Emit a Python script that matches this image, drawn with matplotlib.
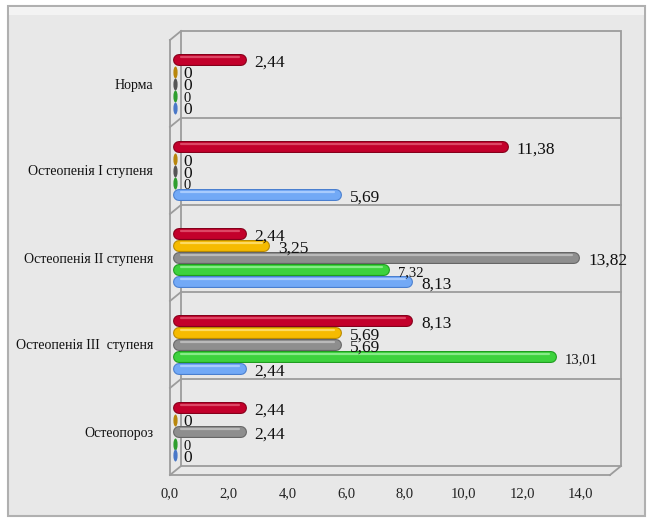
import matplotlib
matplotlib.use('Agg')
import matplotlib.pyplot as plt
import numpy as np
from matplotlib.transforms import offset_copy, Affine2D
from matplotlib.patches import Rectangle
from matplotlib.path import Path
from matplotlib.lines import Line2D

plt.rcParams['font.family'] = ['Liberation Serif', 'DejaVu Serif']

# data
categories = ['Норма', 'Остеопенія I ступеня', 'Остеопенія II ступеня',
              'Остеопенія III  ступеня', 'Остеопороз']
red = [2.44, 11.38, 2.44, 8.13, 2.44]
yellow = [0, 0, 3.25, 5.69, 0]
gray = [0, 0, 13.82, 5.69, 2.44]
green = [0, 0, 7.32, 13.01, 0]
blue = [0, 5.69, 8.13, 2.44, 0]
xticks = [0, 2, 4, 6, 8, 10, 12, 14]
xticklabels = ['0,0', '2,0', '4,0', '6,0', '8,0', '10,0', '12,0', '14,0']

W, H = 648, 519
fig = plt.figure(figsize=(W / 100, H / 100), dpi=100)
fig.patch.set_facecolor('white')


def P(x, y):
    return (x / W, 1 - y / H)


# outer panel
fig.add_artist(Rectangle(P(8, 516), 637 / W, 510 / H, transform=fig.transFigure,
                         facecolor='#e8e8e8', edgecolor='#b0b0b0', lw=1.5, zorder=-2))
fig.add_artist(Rectangle(P(9, 15), 635 / W, 8 / H, transform=fig.transFigure,
                         facecolor='#f3f3f3', edgecolor='none', zorder=-1))

# front plane of the pseudo-3d plot area
ax = fig.add_axes([170 / W, 44 / H, 440 / W, 435 / H])
ax.patch.set_visible(False)
for s in ax.spines.values():
    s.set_visible(False)
ax.set_xlim(0, 15)
ax.set_ylim(4.5, -0.5)

PX = 15 / 440  # data units per pixel
DX, DY = 11, 9  # depth offset in pixels
frame_c = '#9c9c9c'
back = offset_copy(ax.transData, fig, x=DX, y=DY, units='dots')
backax = offset_copy(ax.transAxes, fig, x=DX, y=DY, units='dots')

ax.add_patch(Rectangle((0, 0), 1, 1, transform=backax, fill=False,
                       edgecolor=frame_c, lw=1.3, zorder=0.5, clip_on=False))
for i in range(len(categories) - 1):
    ax.plot([0, 15], [i + 0.5, i + 0.5], color=frame_c, lw=1.3, transform=back,
            zorder=0.5, clip_on=False)
# left wall, floor
for (x0, y0) in [(0, 0), (0, 1), (1, 0)]:
    fx, fy = ax.transAxes.transform((x0, y0))
    ax.add_line(Line2D([fx, fx + DX], [fy, fy + DY], transform=None, color=frame_c,
                       lw=1.3, zorder=0.5, clip_on=False))
for i in range(len(categories) - 1):
    fx, fy = ax.transData.transform((0, i + 0.5))
    ax.add_line(Line2D([fx, fx + DX], [fy, fy + DY], transform=None, color=frame_c,
                       lw=1.3, zorder=0.5, clip_on=False))
ax.plot([0, 0], [-0.5, 4.5], color=frame_c, lw=1.3, zorder=0.5, clip_on=False)
ax.plot([0, 15], [4.5, 4.5], color=frame_c, lw=1.3, zorder=0.5, clip_on=False)

series = [
    (red, '#c3002b', '#85001b', '#e35a74', '#7a0018', 12.5),
    (yellow, '#f6bb00', '#b88900', '#ffe27a', '#b8860b', 12.5),
    (gray, '#8e8e8e', '#666666', '#c4c4c4', '#555555', 12.5),
    (green, '#3dd23d', '#1f9c1f', '#9af29a', '#2e9e2e', 10.5),
    (blue, '#72a9f6', '#4a7fcf', '#b6d4ff', '#4a78c8', 12.5),
]

ell = Path.unit_circle().transformed(Affine2D().scale(0.35, 1.0))
lw_px = 12
hl = offset_copy(ax.transData, fig, x=0, y=2.5, units='dots')
for k, (vals, c, ec, hc, zc, fs) in enumerate(series):
    for i, v in enumerate(vals):
        y = i + (k - 2) * 12 / 87
        if v > 0:
            x0, x1 = 9 * PX, v - 1 * PX
            ax.plot([x0, x1], [y, y], color=ec, lw=lw_px * 0.72,
                    solid_capstyle='round', zorder=3 + k * 0.1)
            ax.plot([x0, x1], [y, y], color=c, lw=(lw_px - 2.2) * 0.72,
                    solid_capstyle='round', zorder=3 + k * 0.1 + 0.01)
            ax.plot([x0 + 2 * PX, x1 - 2 * PX], [y, y], color=hc, lw=2.2 * 0.72,
                    solid_capstyle='round', alpha=0.8, transform=hl,
                    zorder=3 + k * 0.1 + 0.02)
        else:
            ax.plot([5 * PX], [y], marker=ell, ms=lw_px * 0.72, color=zc,
                    mec='none', zorder=3 + k * 0.1, clip_on=False)
        ax.annotate(str(v).replace('.', ',') if v > 0 else '0', (v, y),
                    xytext=(13 * 0.72, -3 * 0.72), textcoords='offset points',
                    ha='left', va='center', fontsize=fs, color='#111111', zorder=10)

ax.set_yticks(range(len(categories)))
ax.set_yticklabels(categories, fontsize=10, color='#111111')
ax.set_xticks(xticks)
ax.set_xticklabels(xticklabels, fontsize=10.5, color='#222222')
ax.tick_params(axis='y', length=0, pad=12)
ax.tick_params(axis='x', length=0, pad=9)

fig.savefig('out.png', dpi=100)
